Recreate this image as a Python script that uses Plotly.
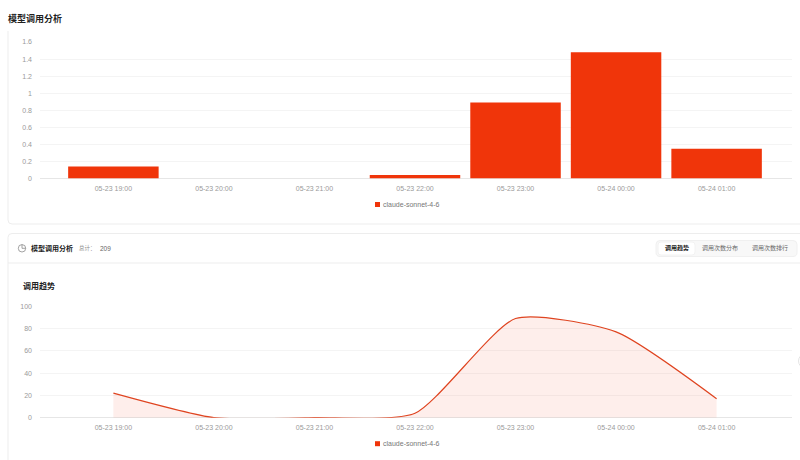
import plotly.graph_objects as go

W, H = 800, 460

# Data
hours = ["05-23 19:00", "05-23 20:00", "05-23 21:00", "05-23 22:00",
         "05-23 23:00", "05-24 00:00", "05-24 01:00"]
cost_values = [0.14, 0, 0, 0.04, 0.89, 1.48, 0.35]
call_values = [22, 0, 0, 4, 89, 77, 17]
cost_ticks = [0, 0.2, 0.4, 0.6, 0.8, 1, 1.2, 1.4, 1.6]
call_ticks = [0, 20, 40, 60, 80, 100]
model_name = "claude-sonnet-4-6"
tabs = ["调用趋势", "调用次数分布", "调用次数排行"]

RED = "#F0350A"
LINE = "#DF4420"
GRID = "#F4F4F4"
BASE = "#E6E6E6"
BORDER = "#EDEDED"
TICK = "#9A9A9A"
FONT = "Liberation Sans, Noto Sans CJK SC, sans-serif"


def px(x):
    return x / W


def py(y):
    return 1 - y / H


def rounded(x0, y0, x1, y1, r):
    """Rounded rectangle path in paper coordinates from pixel edges."""
    p = lambda x, y: f"{px(x):.5f},{py(y):.5f}"
    return (f"M{p(x0 + r, y0)} L{p(x1 - r, y0)} Q{p(x1, y0)} {p(x1, y0 + r)} "
            f"L{p(x1, y1 - r)} Q{p(x1, y1)} {p(x1 - r, y1)} "
            f"L{p(x0 + r, y1)} Q{p(x0, y1)} {p(x0, y1 - r)} "
            f"L{p(x0, y0 + r)} Q{p(x0, y0)} {p(x0 + r, y0)} Z")


def box(x0, y0, x1, y1, r, line=BORDER, fill="rgba(0,0,0,0)", width=1):
    return dict(type="path", xref="paper", yref="paper", path=rounded(x0, y0, x1, y1, r),
                line=dict(color=line, width=width), fillcolor=fill, layer="below")


def hline(x0, x1, y, color=BORDER):
    return dict(type="line", xref="paper", yref="paper", x0=px(x0), x1=px(x1),
                y0=py(y), y1=py(y), line=dict(color=color, width=1), layer="below")


def label(text, x, y, size, color="#333333", anchor="left", bold=False):
    return dict(text=f"<b>{text}</b>" if bold else text, x=px(x), y=py(y),
                xref="paper", yref="paper", xanchor=anchor, yanchor="middle",
                showarrow=False, font=dict(size=size, color=color, family=FONT),
                borderpad=0)


def swatch(x0, y0, size=5):
    return dict(type="rect", xref="paper", yref="paper", x0=px(x0), x1=px(x0 + size),
                y0=py(y0), y1=py(y0 + size), fillcolor=RED, line=dict(width=0))


fig = go.Figure()

fig.add_trace(go.Bar(x=hours, y=cost_values, width=0.9, marker=dict(color=RED, line=dict(width=0)),
                     xaxis="x", yaxis="y", showlegend=False, name=model_name))
fig.add_trace(go.Scatter(x=hours, y=call_values, mode="lines", name=model_name,
                         line=dict(color=LINE, width=1.2, shape="spline", smoothing=0.6),
                         fill="tozeroy", fillcolor="rgba(240,70,30,0.09)",
                         xaxis="x2", yaxis="y2", showlegend=False))

x_range = [-0.73, 6.75]
axis_x = dict(type="category", categoryorder="array", categoryarray=hours, range=x_range,
              domain=[px(40), px(792)], showgrid=False, zeroline=False, showline=False,
              ticks="", fixedrange=True, automargin=False, ticklabelstandoff=4,
              tickfont=dict(size=7, color=TICK, family=FONT))
axis_y = dict(showgrid=True, gridcolor=GRID, gridwidth=1, zeroline=True, zerolinecolor=BASE,
              zerolinewidth=1, showline=False, ticks="", fixedrange=True, automargin=False,
              tickfont=dict(size=7, color=TICK, family=FONT), ticklabelstandoff=7)

fig.update_layout(
    width=W, height=H, margin=dict(l=0, r=0, t=0, b=0), autosize=False,
    paper_bgcolor="white", plot_bgcolor="rgba(0,0,0,0)", showlegend=False, bargap=0.1,
    font=dict(family=FONT),
    xaxis=dict(axis_x, anchor="y"),
    yaxis=dict(axis_y, anchor="x", domain=[py(178.5), py(42)], range=[0, 1.6],
               tickvals=cost_ticks, ticktext=[f"{v:g}" for v in cost_ticks]),
    xaxis2=dict(axis_x, anchor="y2"),
    yaxis2=dict(axis_y, anchor="x2", domain=[py(417.7), py(306.3)], range=[0, 100],
                tickvals=call_ticks, ticktext=[str(v) for v in call_ticks]),
    shapes=[
        # Upper card, its top edge hidden under the section heading
        dict(type="path", xref="paper", yref="paper",
             path=(f"M{px(8)},{py(31)} L{px(8)},{py(220)} Q{px(8)},{py(224)} {px(12)},{py(224)} "
                   f"L{px(806)},{py(224)}"),
             line=dict(color=BORDER, width=1), layer="below"),
        # Lower card with header divider
        box(8, 233.5, 812, 480, 4),
        hline(8, 800, 263),
        # Tab switcher
        box(656, 240.5, 797, 256.5, 4, line="#F0F0F0", fill="#F8F8F8"),
        box(658, 242, 695, 255, 3, line="#F2F2F2", fill="#FFFFFF"),
        # Clock icon in the card header
        dict(type="circle", xref="paper", yref="paper", x0=px(18.3), x1=px(25.7),
             y0=py(244.6), y1=py(252), line=dict(color="#8C8C8C", width=0.8)),
        dict(type="path", xref="paper", yref="paper",
             path=f"M{px(22)},{py(244.6)} L{px(22)},{py(248.3)} L{px(25.7)},{py(248.3)}",
             line=dict(color="#8C8C8C", width=0.8)),
        # Collapsed side handle peeking in at the right edge
        dict(type="circle", xref="paper", yref="paper", x0=px(798.5), x1=px(812),
             y0=py(354), y1=py(368), line=dict(color="#E4E4E4", width=1), fillcolor="white"),
        # Legend keys
        swatch(375, 202),
        swatch(375, 441.2),
    ],
    annotations=[
        label("模型调用分析", 6.5, 18, 9, color="#1F1F1F", bold=True),
        label("模型调用分析", 30, 248.3, 7, color="#222222", bold=True),
        label("总计：", 78, 248.3, 5.5, color="#8A8A8A"),
        label("209", 98.5, 248.3, 6.5, color="#666666"),
        label("调用趋势", 21.5, 286, 8, color="#222222", bold=True),
        label(tabs[0], 676.5, 248.3, 6, color="#222222", anchor="center", bold=True),
        label(tabs[1], 720, 248.3, 6, color="#666666", anchor="center"),
        label(tabs[2], 770, 248.3, 6, color="#666666", anchor="center"),
        label(model_name, 382, 204.5, 7, color="#777777"),
        label(model_name, 382, 443.7, 7, color="#777777"),
    ],
)

fig.write_html("out.html", config=dict(displayModeBar=False))
